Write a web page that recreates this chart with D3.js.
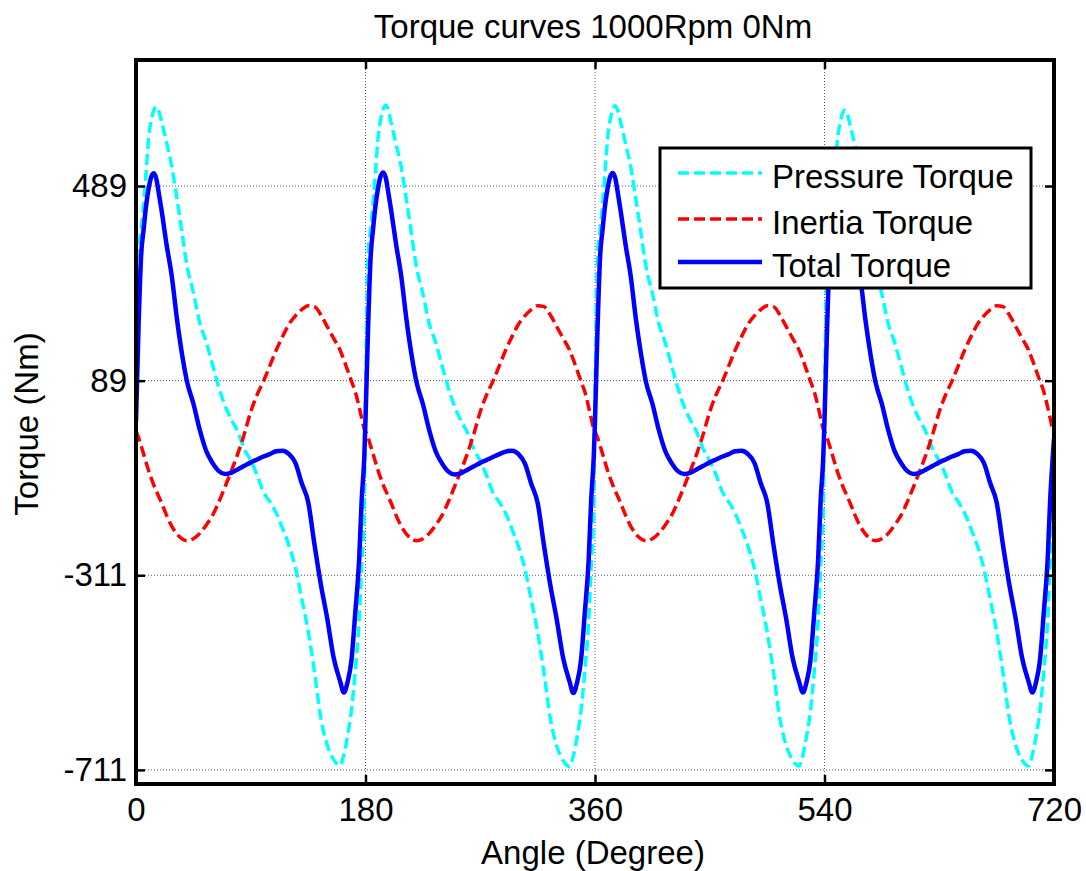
<!DOCTYPE html>
<html>
<head>
<meta charset="utf-8">
<script src="https://cdn.jsdelivr.net/npm/d3@7"></script>
<style>
  body { margin: 0; background: #fff; }
  text { font-family: "Liberation Sans", Arial, sans-serif; fill: #000; }
</style>
</head>
<body>
<script>
// crank angle samples (degree), denser near the steep firing edges
const angles = [
  0,2,4,6,8,10,12,14,16,18,20,24,28,32,36,40,45,50,55,60,65,70,75,80,85,90,95,100,105,110,115,120,125,130,135,140,145,150,155,160,163,166,169,172,175,177,179,
  180,182,184,186,188,190,192,194,196,198,200,204,208,212,216,220,225,230,235,240,245,250,255,260,265,270,275,280,285,290,295,300,305,310,315,320,325,330,335,340,343,346,349,352,355,357,359,
  360,362,364,366,368,370,372,374,376,378,380,384,388,392,396,400,405,410,415,420,425,430,435,440,445,450,455,460,465,470,475,480,485,490,495,500,505,510,515,520,523,526,529,532,535,537,539,
  540,542,544,546,548,550,552,554,556,558,560,564,568,572,576,580,585,590,595,600,605,610,615,620,625,630,635,640,645,650,655,660,665,670,675,680,685,690,695,700,703,706,709,712,715,717,719,
  720
];

const pressureTorque = [
  40,350,400,450,520,590,625,645,652,642,622,578,530,465,395,325,270,208,169,122,75,36,8,-17,-52,-75,-105,-140,-160,-183,-215,-250,-295,-360,-425,-510,-605,-660,-690,-702,-680,-640,-588,-505,-405,-290,-175,
  45,345,402,455,525,592,628,648,655,644,620,575,528,462,392,322,268,206,168,120,74,35,6,-18,-52,-76,-106,-141,-161,-184,-217,-252,-298,-362,-428,-512,-606,-662,-692,-704,-682,-642,-590,-508,-408,-292,-172,
  42,348,400,452,522,590,626,647,654,643,621,576,529,463,393,323,269,207,168,121,74,35,7,-18,-52,-76,-105,-140,-160,-184,-216,-251,-297,-361,-427,-511,-606,-661,-691,-703,-681,-641,-589,-507,-406,-291,-173,
  40,340,395,445,512,580,616,637,645,636,615,572,525,460,392,322,267,206,167,120,73,34,6,-19,-53,-76,-105,-140,-160,-184,-216,-251,-297,-361,-427,-511,-605,-661,-691,-703,-681,-641,-589,-507,-406,-291,-173,
  -100
];

const inertiaTorque = [
  -15,-28,-45,-62,-80,-97,-112,-126,-138,-150,-162,-188,-210,-226,-236,-240,-236,-225,-208,-188,-160,-128,-95,-60,-20,25,60,88,120,152,180,205,222,235,243,241,224,200,176,152,132,110,88,66,35,12,-10,
  -15,-28,-45,-62,-80,-97,-112,-126,-138,-150,-162,-188,-210,-226,-236,-240,-236,-225,-208,-188,-160,-128,-95,-60,-20,25,60,88,120,152,180,205,222,235,243,241,224,200,176,152,132,110,88,66,35,12,-10,
  -15,-28,-45,-62,-80,-97,-112,-126,-138,-150,-162,-188,-210,-226,-236,-240,-236,-225,-208,-188,-160,-128,-95,-60,-20,25,60,88,120,152,180,205,222,235,243,241,224,200,176,152,132,110,88,66,35,12,-10,
  -15,-28,-45,-62,-80,-97,-112,-126,-138,-150,-162,-188,-210,-226,-236,-240,-236,-225,-208,-188,-160,-128,-95,-60,-20,25,60,88,120,152,180,205,222,235,243,241,224,200,176,152,132,110,88,66,35,12,-10,
  -12
];

const totalTorque = [
  5,200,345,400,450,485,508,515,503,472,440,368,305,218,145,87,42,-12,-55,-80,-97,-103,-100,-93,-86,-79,-73,-67,-62,-56,-55,-62,-80,-122,-160,-248,-330,-400,-480,-528,-552,-530,-485,-387,-280,-156,-70,
  8,195,342,402,452,487,510,517,505,474,441,369,304,217,144,86,41,-13,-56,-81,-98,-104,-101,-94,-87,-80,-74,-68,-62,-57,-55,-62,-81,-123,-162,-250,-332,-402,-481,-529,-553,-531,-486,-388,-281,-157,-68,
  6,198,344,401,451,486,509,516,504,473,440,368,304,217,145,86,42,-12,-55,-80,-97,-103,-100,-93,-86,-79,-73,-67,-62,-56,-55,-62,-80,-122,-161,-249,-331,-401,-481,-529,-552,-530,-485,-387,-280,-156,-69,
  6,196,342,400,450,485,508,514,502,471,439,367,303,216,144,86,41,-13,-56,-80,-97,-103,-100,-93,-86,-79,-73,-67,-62,-56,-55,-62,-80,-122,-161,-249,-331,-401,-481,-529,-552,-530,-485,-387,-280,-156,-69,
  -30
];

const xTicks = [0, 180, 360, 540, 720];
const yTicks = [-711, -311, 89, 489];

const seriesNames = ["Pressure Torque", "Inertia Torque", "Total Torque"];
const seriesColors = ["#00ffff", "#ff0000", "#0000ff"];

const W = 1086, H = 871;
const plotLeft = 136, plotRight = 1054, plotTop = 60, plotBottom = 784;
const fontSize = 33;

const svg = d3.select("body").append("svg").attr("width", W).attr("height", H);

const x = d3.scaleLinear().domain([0, 720]).range([plotLeft, plotRight]);
const y = d3.scaleLinear().domain([-740, 748]).range([plotBottom, plotTop]);

// grid (dotted)
const grid = svg.append("g");
for (const t of xTicks.slice(1, -1)) {
  grid.append("line").attr("x1", x(t)).attr("x2", x(t)).attr("y1", plotTop).attr("y2", plotBottom)
      .attr("stroke", "#5a5a5a").attr("stroke-width", 1).attr("stroke-dasharray", "1,2");
}
for (const t of yTicks) {
  grid.append("line").attr("x1", plotLeft).attr("x2", plotRight).attr("y1", y(t)).attr("y2", y(t))
      .attr("stroke", "#5a5a5a").attr("stroke-width", 1).attr("stroke-dasharray", "1,2");
}

// curves
svg.append("clipPath").attr("id", "plotclip").append("rect")
   .attr("x", plotLeft).attr("y", plotTop).attr("width", plotRight - plotLeft).attr("height", plotBottom - plotTop);

const series = [pressureTorque, inertiaTorque, totalTorque];
const dashes = ["11,5", "11,5", null];
const widths = [3.5, 3.5, 4.5];
const line = d3.line().curve(d3.curveMonotoneX);
const plot = svg.append("g").attr("clip-path", "url(#plotclip)");
series.forEach((vals, i) => {
  const pts = angles.map((a, j) => [x(a), y(vals[j])]);
  plot.append("path").attr("d", line(pts))
      .attr("fill", "none").attr("stroke", seriesColors[i])
      .attr("stroke-width", widths[i]).attr("stroke-linejoin", "round")
      .attr("stroke-dasharray", dashes[i]);
});

// axes
const plain = d => String(d);
const bottomAxis = svg.append("g").attr("transform", "translate(0," + plotBottom + ")")
  .call(d3.axisBottom(x).tickValues(xTicks).tickFormat(plain).tickSizeInner(-9).tickSizeOuter(0).tickPadding(14));
const leftAxis = svg.append("g").attr("transform", "translate(" + plotLeft + ",0)")
  .call(d3.axisLeft(y).tickValues(yTicks).tickFormat(plain).tickSizeInner(-9).tickSizeOuter(0).tickPadding(9));
const topAxis = svg.append("g").attr("transform", "translate(0," + plotTop + ")")
  .call(d3.axisTop(x).tickValues(xTicks).tickSizeInner(-9).tickSizeOuter(0).tickFormat(""));
const rightAxis = svg.append("g").attr("transform", "translate(" + plotRight + ",0)")
  .call(d3.axisRight(y).tickValues(yTicks).tickSizeInner(-9).tickSizeOuter(0).tickFormat(""));

for (const ax of [bottomAxis, leftAxis, topAxis, rightAxis]) {
  ax.select(".domain").remove();
  ax.selectAll(".tick line").attr("stroke", "#000").attr("stroke-width", 2.5);
  ax.selectAll("text").attr("font-size", fontSize).attr("font-family", "Liberation Sans, Arial, sans-serif");
}

// frame
svg.append("rect").attr("x", plotLeft).attr("y", plotTop).attr("width", plotRight - plotLeft).attr("height", plotBottom - plotTop)
   .attr("fill", "none").attr("stroke", "#000").attr("stroke-width", 4);

// titles
svg.append("text").attr("x", 593).attr("y", 38).attr("text-anchor", "middle")
   .attr("font-size", fontSize).text("Torque curves 1000Rpm 0Nm");
svg.append("text").attr("x", 593).attr("y", 864).attr("text-anchor", "middle")
   .attr("font-size", fontSize).text("Angle (Degree)");
svg.append("text").attr("transform", "translate(38,424) rotate(-90)").attr("text-anchor", "middle")
   .attr("font-size", fontSize).text("Torque (Nm)");

// legend
const legend = svg.append("g");
legend.append("rect").attr("x", 660).attr("y", 148).attr("width", 371).attr("height", 140)
      .attr("fill", "#fff").attr("stroke", "#000").attr("stroke-width", 3);
const legendY = [173, 219, 262];
seriesNames.forEach((name, i) => {
  legend.append("line").attr("x1", 678).attr("x2", 762).attr("y1", legendY[i]).attr("y2", legendY[i])
        .attr("stroke", seriesColors[i]).attr("stroke-width", widths[i])
        .attr("stroke-dasharray", dashes[i]);
  legend.append("text").attr("x", 772).attr("y", legendY[i] + 15).attr("font-size", fontSize).text(name);
});
</script>
</body>
</html>
